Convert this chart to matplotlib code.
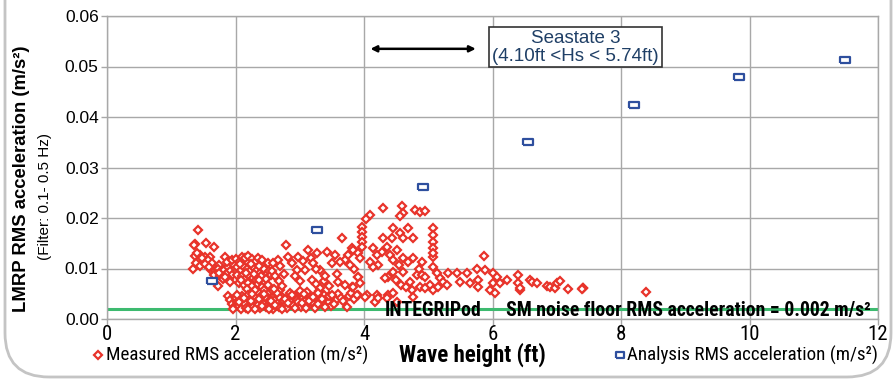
import numpy as np
import matplotlib
matplotlib.use("Agg")
import matplotlib.pyplot as plt
from matplotlib import font_manager
from matplotlib.font_manager import FontProperties
from matplotlib.patches import FancyBboxPatch
from matplotlib.lines import Line2D
from matplotlib.transforms import IdentityTransform

# analysis RMS acceleration (blue squares)
analysis_hs = [1.63, 3.27, 4.92, 6.55, 8.20, 9.84, 11.49]
analysis_acc = [0.0075, 0.0176, 0.0261, 0.0350, 0.0424, 0.0479, 0.0513]

# measured RMS acceleration (red diamonds) as (Hs, acc)
measured_pts = [
    # left group
    (1.41, 0.0176), (1.37, 0.0149), (1.36, 0.0146), (1.54, 0.0150), (1.67, 0.0143), (1.34, 0.0100),
    (1.37, 0.0125), (1.45, 0.0127), (1.53, 0.0123), (1.60, 0.0122), (1.41, 0.0115), (1.49, 0.0113),
    (1.57, 0.0116), (1.64, 0.0110), (1.75, 0.0107), (1.83, 0.0123), (1.40, 0.0130), (1.48, 0.0120),
    (1.38, 0.0110), (1.62, 0.0098), (1.68, 0.0095), (1.72, 0.0100), (1.78, 0.0093), (1.82, 0.0098),
    (1.88, 0.0103), (1.92, 0.0096), (1.70, 0.0090), (1.66, 0.0087), (1.76, 0.0086), (1.85, 0.0089),
    (1.94, 0.0087), (1.80, 0.0080), (1.90, 0.0080), (1.73, 0.0066), (1.91, 0.0074), (1.86, 0.0112),
    (1.95, 0.0117), (1.44, 0.0105), (1.52, 0.0108), (1.58, 0.0102), (1.74, 0.0092), (1.84, 0.0084),
    # 2 - 2.6 upper
    (2.00, 0.0118), (2.05, 0.0112), (2.10, 0.0123), (2.15, 0.0120), (2.20, 0.0125), (2.25, 0.0118),
    (2.30, 0.0112), (2.35, 0.0120), (2.42, 0.0117), (2.50, 0.0110), (2.02, 0.0102), (2.08, 0.0098),
    (2.12, 0.0105), (2.18, 0.0100), (2.22, 0.0095), (2.28, 0.0103), (2.33, 0.0098), (2.38, 0.0092),
    (2.45, 0.0100), (2.52, 0.0095), (2.03, 0.0088), (2.10, 0.0085), (2.15, 0.0080), (2.20, 0.0088),
    (2.27, 0.0082), (2.32, 0.0077), (2.40, 0.0085), (2.48, 0.0080), (2.55, 0.0087), (2.05, 0.0072),
    (2.13, 0.0068), (2.20, 0.0072), (2.25, 0.0065), (2.35, 0.0070), (2.42, 0.0063), (2.50, 0.0068),
    (2.18, 0.0060), (2.30, 0.0058), (2.45, 0.0057), (2.07, 0.0108), (2.24, 0.0108), (2.36, 0.0105),
    (2.16, 0.0092), (2.29, 0.0090), (2.08, 0.0078), (2.37, 0.0078),
    # bottom band
    (1.88, 0.0045), (1.92, 0.0038), (1.95, 0.0030), (1.98, 0.0024), (2.00, 0.0042), (2.03, 0.0034),
    (2.05, 0.0026), (2.08, 0.0020), (2.10, 0.0045), (2.12, 0.0037), (2.15, 0.0029), (2.17, 0.0022),
    (2.20, 0.0048), (2.22, 0.0040), (2.25, 0.0032), (2.27, 0.0024), (2.30, 0.0043), (2.33, 0.0035),
    (2.35, 0.0027), (2.38, 0.0021), (2.40, 0.0046), (2.43, 0.0038), (2.45, 0.0030), (2.48, 0.0023),
    (2.50, 0.0041), (2.53, 0.0033), (2.55, 0.0026), (2.58, 0.0020), (2.60, 0.0047), (2.63, 0.0039),
    (2.66, 0.0031), (2.68, 0.0024), (2.72, 0.0044), (2.75, 0.0036), (2.78, 0.0028), (2.80, 0.0022),
    (2.84, 0.0041), (2.87, 0.0034), (2.90, 0.0027), (2.93, 0.0045), (2.96, 0.0038), (2.99, 0.0030),
    (3.02, 0.0024), (3.05, 0.0042), (3.08, 0.0035), (3.11, 0.0028), (3.15, 0.0046), (3.18, 0.0039),
    (3.21, 0.0031), (3.25, 0.0025), (3.28, 0.0043), (3.31, 0.0036), (3.35, 0.0029), (3.38, 0.0047),
    (3.42, 0.0040), (3.45, 0.0033), (3.48, 0.0026), (3.52, 0.0044), (3.56, 0.0037), (3.60, 0.0050),
    (3.64, 0.0042), (3.68, 0.0035), (3.73, 0.0024), (3.76, 0.0046), (3.80, 0.0052), (3.85, 0.0040),
    (3.90, 0.0048), (2.58, 0.0055), (2.70, 0.0058), (2.85, 0.0052), (3.00, 0.0056), (3.12, 0.0053),
    (3.30, 0.0055), (1.96, 0.0019), (2.06, 0.0033), (2.14, 0.0041), (2.19, 0.0019), (2.24, 0.0036),
    (2.31, 0.0019), (2.36, 0.0040), (2.41, 0.0026), (2.46, 0.0043), (2.52, 0.0019), (2.56, 0.0036),
    (2.62, 0.0028), (2.67, 0.0044), (2.73, 0.0019), (2.77, 0.0040), (2.82, 0.0031), (2.88, 0.0047),
    (2.92, 0.0021), (2.98, 0.0034), (3.04, 0.0031), (3.09, 0.0021), (3.14, 0.0035), (3.20, 0.0044),
    (3.24, 0.0021), (3.29, 0.0030), (3.34, 0.0040), (3.40, 0.0024), (3.46, 0.0045), (3.53, 0.0030),
    (2.02, 0.0048), (2.26, 0.0050), (2.44, 0.0050), (2.64, 0.0051), (3.06, 0.0049),
    # 2.6 - 3.9 middle
    (2.78, 0.0147), (3.66, 0.0160), (3.13, 0.0137), (3.27, 0.0130), (3.42, 0.0133), (3.55, 0.0127),
    (2.66, 0.0117), (2.82, 0.0123), (2.97, 0.0123), (2.96, 0.0097), (3.08, 0.0097), (3.32, 0.0097),
    (3.25, 0.0100), (2.57, 0.0095), (2.62, 0.0085), (2.67, 0.0075), (2.72, 0.0065), (2.60, 0.0060),
    (2.75, 0.0090), (2.70, 0.0105), (2.58, 0.0110), (2.88, 0.0110), (2.92, 0.0085), (3.00, 0.0075),
    (3.05, 0.0115), (3.18, 0.0120), (3.20, 0.0110), (3.19, 0.0077), (3.25, 0.0070), (3.32, 0.0062),
    (3.38, 0.0075), (3.45, 0.0066), (3.50, 0.0048), (3.28, 0.0052), (3.40, 0.0086), (3.60, 0.0073),
    (3.70, 0.0067), (3.81, 0.0063), (3.75, 0.0127), (3.70, 0.0117), (3.81, 0.0140), (3.62, 0.0113),
    (3.50, 0.0110), (3.58, 0.0090), (3.85, 0.0100), (3.90, 0.0083),
    # 3.8 - 5.1
    (4.29, 0.0220), (4.59, 0.0224), (4.60, 0.0209), (4.56, 0.0203), (4.79, 0.0216), (4.87, 0.0212),
    (4.95, 0.0214), (4.09, 0.0205), (4.03, 0.0199), (3.97, 0.0183), (3.97, 0.0172), (3.97, 0.0163),
    (3.97, 0.0153), (3.97, 0.0143), (4.45, 0.0180), (4.68, 0.0180), (4.56, 0.0170), (4.44, 0.0160),
    (4.61, 0.0160), (4.76, 0.0160), (5.07, 0.0180), (5.07, 0.0166), (5.07, 0.0152), (5.07, 0.0140),
    (5.07, 0.0123), (5.07, 0.0103), (5.07, 0.0130), (4.30, 0.0160), (4.36, 0.0143), (4.28, 0.0133),
    (4.40, 0.0127), (4.51, 0.0137), (4.45, 0.0117), (4.61, 0.0121), (4.76, 0.0121), (4.14, 0.0140),
    (4.20, 0.0127), (4.22, 0.0107), (4.14, 0.0103), (4.09, 0.0113), (3.83, 0.0137), (3.91, 0.0130),
    (3.94, 0.0120), (3.78, 0.0107), (4.55, 0.0107), (4.60, 0.0093), (4.45, 0.0093), (4.50, 0.0077),
    (4.58, 0.0067), (4.66, 0.0063), (4.74, 0.0057), (4.38, 0.0083), (4.32, 0.0081), (4.82, 0.0087),
    (4.90, 0.0087), (4.95, 0.0083), (5.03, 0.0067), (5.07, 0.0057), (4.87, 0.0063), (4.95, 0.0061),
    (4.72, 0.0073), (4.76, 0.0044), (3.91, 0.0083), (3.94, 0.0071), (3.83, 0.0063), (3.89, 0.0048),
    (4.05, 0.0048), (4.02, 0.0044), (4.20, 0.0048), (4.17, 0.0034), (4.22, 0.0042), (4.38, 0.0048),
    (4.45, 0.0051), (4.51, 0.0034), (4.36, 0.0042), (4.90, 0.0112), (4.85, 0.0100), (4.68, 0.0112),
    # 5.1 - 8.4
    (5.87, 0.0125), (5.31, 0.0091), (5.45, 0.0091), (5.60, 0.0091), (5.76, 0.0099), (5.88, 0.0097),
    (5.18, 0.0081), (5.23, 0.0073), (5.29, 0.0067), (5.15, 0.0063), (5.14, 0.0091), (5.49, 0.0073),
    (5.65, 0.0071), (5.77, 0.0077), (5.77, 0.0063), (6.01, 0.0091), (6.07, 0.0083), (6.01, 0.0071),
    (5.96, 0.0057), (6.04, 0.0051), (6.12, 0.0071), (6.23, 0.0077), (6.39, 0.0071), (6.43, 0.0057),
    (6.40, 0.0087), (6.43, 0.0061), (6.58, 0.0077), (6.61, 0.0073), (6.69, 0.0071), (6.85, 0.0065),
    (6.90, 0.0063), (6.97, 0.0061), (7.00, 0.0071), (7.05, 0.0075), (7.18, 0.0059), (7.41, 0.0061),
    (7.41, 0.0062), (7.40, 0.0060), (8.39, 0.0053),
]
measured_hs = [p[0] for p in measured_pts]
measured_acc = [p[1] for p in measured_pts]

noise_floor = 0.002
seastate_lo, seastate_hi = 4.10, 5.74

x_ticks = [0, 2, 4, 6, 8, 10, 12]
y_ticks = [0.00, 0.01, 0.02, 0.03, 0.04, 0.05, 0.06]


def pick_condensed(bold):
    # look for a narrow/condensed face among the installed fonts
    want = 700 if bold else 400
    prefs = ["Liberation Sans Narrow", "Roboto Condensed", "Noto Sans", "Open Sans",
             "DejaVu Sans", "Roboto", "Lato", "Inter"]
    for fam in prefs:
        for f in font_manager.fontManager.ttflist:
            narrowish = ("Narrow" in f.name or "Condensed" in f.name
                         or str(f.stretch) in ("condensed", "semi-condensed", "extra-condensed"))
            if f.name.startswith(fam) and narrowish and f.style == "normal":
                try:
                    w = int(f.weight)
                except ValueError:
                    w = 700 if "bold" in str(f.weight) else 400
                if w == want:
                    return FontProperties(fname=f.fname)
    return None


cond_reg = pick_condensed(False)
cond_bold = pick_condensed(True)
have_cond = cond_reg is not None and cond_bold is not None
if not have_cond:
    cond_reg = FontProperties(family="Liberation Sans")
    cond_bold = FontProperties(family="Liberation Sans", weight="bold")
shrink = 1.0 if have_cond else 0.88


def fp(base, size):
    p = base.copy()
    p.set_size(size)
    return p


RED = "#e8332a"
BLUE = "#2e4f9e"
GREEN = "#3dba6f"
GRID = "#a8a8a8"
NAVY = "#1f3f66"

fig = plt.figure(figsize=(8.93, 3.79), dpi=100)
ax = fig.add_axes([107 / 893, 1 - 319 / 379, 771 / 893, 303 / 379])

ax.axhline(noise_floor, color=GREEN, lw=2.2, zorder=2)

ax.plot(measured_hs, measured_acc, ls="none", marker="D", ms=4.0, mew=1.6,
        mec=RED, mfc="white", zorder=3)

rect = [(-1.4, -1), (1.4, -1), (1.4, 1), (-1.4, 1), (-1.4, -1)]
ax.plot(analysis_hs, analysis_acc, ls="none", marker=rect, ms=7, mew=1.6,
        mec=BLUE, mfc="white", zorder=4)

ax.set_xlim(0, 12)
ax.set_ylim(0, 0.06)
ax.set_xticks(x_ticks)
ax.set_yticks(y_ticks)
ax.set_xticklabels([str(v) for v in x_ticks], fontproperties=fp(cond_reg, 15 * shrink))
ax.set_yticklabels([f"{v:.2f}" for v in y_ticks], family="Liberation Sans", fontsize=12.5)
ax.tick_params(axis="x", direction="out", length=4, width=1, color=GRID, pad=0)
ax.tick_params(axis="y", direction="out", length=4, width=1, color=GRID, pad=2)
ax.grid(True, color=GRID, lw=1)
ax.set_axisbelow(True)
for s in ax.spines.values():
    s.set_color(GRID)
    s.set_linewidth(1)

# seastate arrow and box
ax.annotate("", xy=(seastate_lo, 0.0535), xytext=(seastate_hi, 0.0535),
            arrowprops=dict(arrowstyle="<|-|>", color="black", lw=1.8,
                            mutation_scale=9, shrinkA=0, shrinkB=0))
ax.text(7.29, 0.0538, "Seastate 3\n(4.10ft <Hs < 5.74ft)", ha="center", va="center",
        color=NAVY, family="Liberation Sans", fontsize=13.5, linespacing=1.05,
        bbox=dict(boxstyle="square,pad=0.15", fc="white", ec="#333333", lw=1.2))

ax.text(5.07, -0.0002, "INTEGRIPod", ha="center", va="bottom",
        fontproperties=fp(cond_bold, 14.2 * shrink))
ax.text(11.88, -0.0002, "SM noise floor RMS acceleration = 0.002 m/s²", ha="right",
        va="bottom", fontproperties=fp(cond_bold, 14.2 * shrink))

# axis labels
fig.text(22 / 893, 1 - 179 / 379, "LMRP RMS acceleration (m/s²)", rotation=90,
         ha="center", va="center", family="Liberation Sans", fontweight="bold", fontsize=13.3)
fig.text(45 / 893, 1 - 196 / 379, "(Filter: 0.1- 0.5 Hz)", rotation=90,
         ha="center", va="center", family="Liberation Sans", fontsize=11)
fig.text(472 / 893, 1 - 355 / 379, "Wave height (ft)", ha="center", va="center",
         fontproperties=fp(cond_bold, 16.5 * shrink))

# legend entries along the bottom
fig.add_artist(Line2D([98 / 893], [1 - 355 / 379], transform=fig.transFigure, ls="none",
                      marker="D", ms=4.0, mew=1.6, mec=RED, mfc="white"))
fig.text(106 / 893, 1 - 355 / 379, "Measured RMS acceleration (m/s²)", ha="left",
         va="center", fontproperties=fp(cond_reg, 13.7 * shrink))
fig.add_artist(Line2D([620 / 893], [1 - 355 / 379], transform=fig.transFigure, ls="none",
                      marker=rect, ms=6, mew=1.6, mec=BLUE, mfc="white"))
fig.text(627 / 893, 1 - 355 / 379, "Analysis RMS acceleration (m/s²)", ha="left",
         va="center", fontproperties=fp(cond_reg, 13.7 * shrink))

# rounded panel frame (top edge runs off the picture)
frame = FancyBboxPatch((5, 2), 886, 460, boxstyle="round,pad=0,rounding_size=44",
                       transform=IdentityTransform(), fill=False, ec="#c4c4c4", lw=2)
fig.add_artist(frame)

fig.savefig("out.png", dpi=100)
